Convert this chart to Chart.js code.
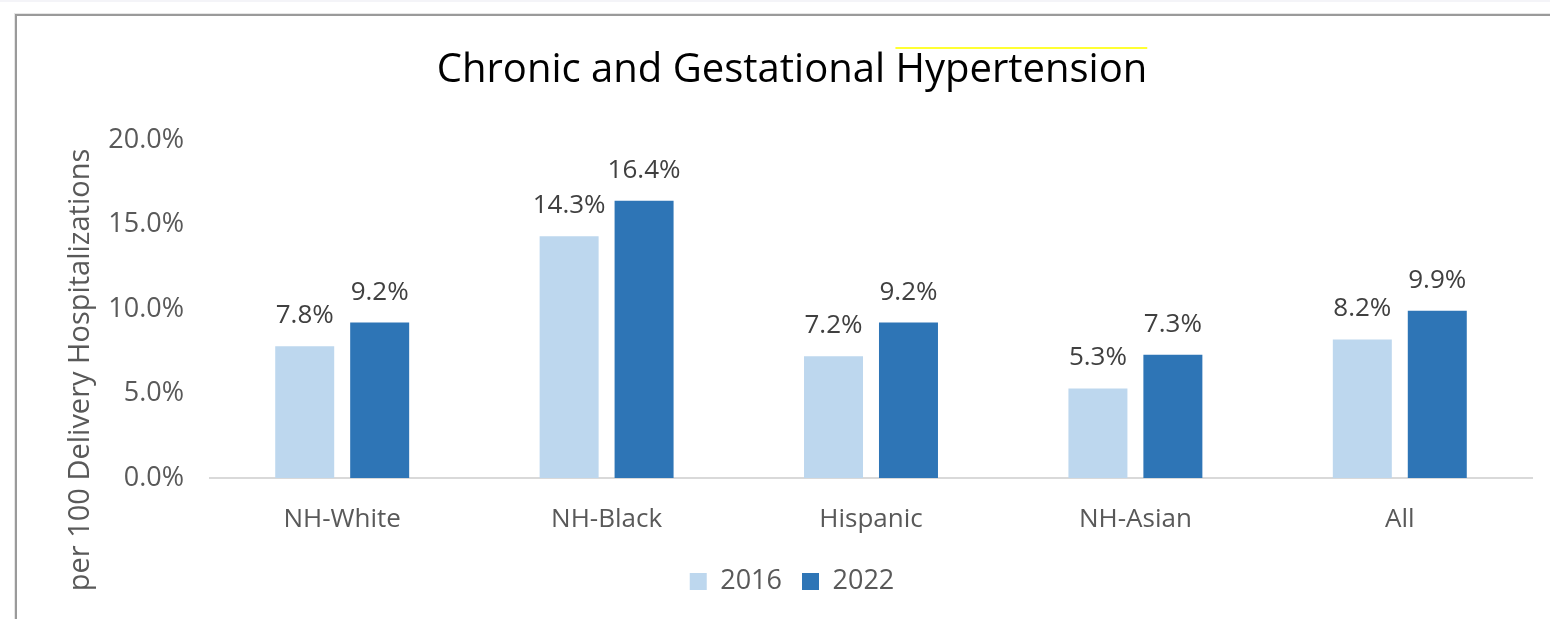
<!DOCTYPE html>
<html>
<head>
<meta charset="utf-8">
<script src="https://cdn.jsdelivr.net/npm/chart.js@4/dist/chart.umd.min.js"></script>
<style>
  html, body { margin: 0; padding: 0; background: #ffffff; overflow: hidden; }
  #topband { position: absolute; left: 0; top: 0; width: 1550px; height: 2px; background: #f4f4f8; }
  #frame { position: absolute; left: 15px; top: 14px; width: 1600px; height: 700px;
           border-top: 2px solid #9a9a9a; border-left: 2px solid #9a9a9a;
           box-shadow: -1px -1px 0 #e6e6e6; }
  #wrap { position: absolute; left: 0; top: 0; width: 1550px; height: 619px; }
</style>
</head>
<body>
<div id="topband"></div>
<div id="frame"></div>
<div id="wrap"><canvas id="c" width="1550" height="619"></canvas></div>
<script>
const categories = ["NH-White", "NH-Black", "Hispanic", "NH-Asian", "All"];
const values2016 = [7.8, 14.3, 7.2, 5.3, 8.2];
const values2022 = [9.2, 16.4, 9.2, 7.3, 9.9];
const seriesLabels = ["2016", "2022"];
const yTicks = [0, 5, 10, 15, 20];
const chartTitle = "Chronic and Gestational Hypertension";
const highlightWord = "Hypertension";
const yAxisTitle = "per 100 Delivery Hospitalizations";

const FONT = "'Open Sans', 'Liberation Sans', sans-serif";
const GRAY = "#595959";

const dataLabels = {
  id: 'dataLabels',
  afterDatasetsDraw(chart) {
    const ctx = chart.ctx;
    ctx.save();
    ctx.font = "26px " + FONT;
    ctx.fillStyle = "#404040";
    ctx.textAlign = "center";
    ctx.textBaseline = "alphabetic";
    chart.data.datasets.forEach((ds, di) => {
      const meta = chart.getDatasetMeta(di);
      meta.data.forEach((el, i) => {
        ctx.fillText(ds.data[i].toFixed(1) + "%", el.x, el.y - 23);
      });
    });
    ctx.restore();
  }
};

const decorations = {
  id: 'decorations',
  afterDraw(chart) {
    const ctx = chart.ctx;
    ctx.save();
    ctx.font = "29px " + FONT;
    ctx.fillStyle = GRAY;
    ctx.textAlign = "center";
    ctx.textBaseline = "middle";
    ctx.translate(81, 370);
    ctx.rotate(-Math.PI / 2);
    ctx.fillText(yAxisTitle, 0, 0);
    ctx.restore();
    const t = chart.titleBlock;
    ctx.save();
    ctx.font = chart.options.plugins.title.font.size + "px " + FONT;
    const full = ctx.measureText(chartTitle).width;
    const w = ctx.measureText(highlightWord).width;
    const cx = (t.left + t.right) / 2;
    const x1 = cx + full / 2;
    ctx.strokeStyle = "#ffff33";
    ctx.lineWidth = 2;
    ctx.beginPath();
    ctx.moveTo(x1 - w, 48);
    ctx.lineTo(x1, 48);
    ctx.stroke();
    ctx.restore();
  }
};

new Chart(document.getElementById('c'), {
  type: 'bar',
  data: {
    labels: categories,
    datasets: [
      { label: seriesLabels[0], data: values2016, backgroundColor: "#bdd7ee",
        categoryPercentage: 0.567, barPercentage: 0.787 },
      { label: seriesLabels[1], data: values2022, backgroundColor: "#2e75b6",
        categoryPercentage: 0.567, barPercentage: 0.787 }
    ]
  },
  options: {
    responsive: false,
    animation: false,
    devicePixelRatio: 1,
    layout: { padding: { left: 52, right: 18, top: 0, bottom: 14 } },
    plugins: {
      title: {
        display: true,
        text: chartTitle,
        color: "#000000",
        font: { family: FONT, size: 40, weight: 'normal' },
        padding: { top: 47, bottom: 45 }
      },
      legend: {
        position: 'bottom',
        labels: {
          boxWidth: 17, boxHeight: 17, padding: 20,
          color: GRAY,
          font: { family: FONT, size: 27 }
        }
      },
      tooltip: { enabled: false }
    },
    scales: {
      x: {
        grid: { display: false },
        border: { display: true, color: "#d9d9d9", width: 2 },
        ticks: { color: GRAY, font: { family: FONT, size: 26 }, padding: 18 },
        afterFit(scale) { scale.height = 70; }
      },
      y: {
        min: 0, max: 20,
        grid: { display: false },
        border: { display: false },
        afterBuildTicks(scale) { scale.ticks = yTicks.map(v => ({ value: v })); },
        ticks: {
          color: GRAY, font: { family: FONT, size: 27 }, padding: 18,
          callback: (v) => Number(v).toFixed(1) + "%"
        },
        afterFit(scale) { scale.width = 158; }
      }
    }
  },
  plugins: [dataLabels, decorations]
});
</script>
</body>
</html>
